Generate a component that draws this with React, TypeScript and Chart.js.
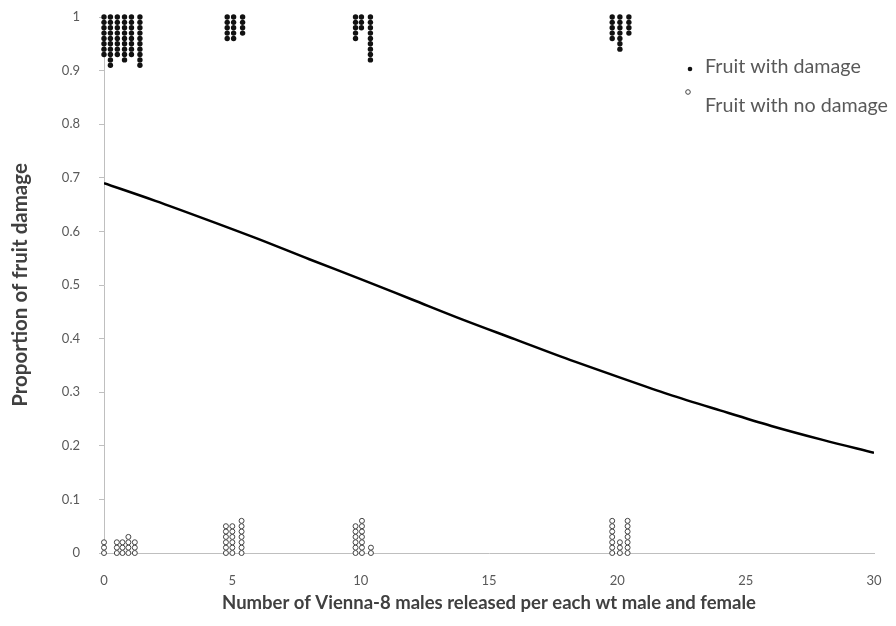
import React, { useEffect, useRef } from "react";
import { Chart, registerables } from "chart.js";

Chart.register(...registerables);

// Fitted curve (proportion of fruit damage vs. release ratio)
const curveX = [0, 2, 4, 6, 8, 10, 12, 14, 16, 18, 20, 22, 24, 26, 28, 30];
const curveY = [0.69, 0.657, 0.622, 0.586, 0.548, 0.511, 0.473, 0.435, 0.399, 0.363, 0.329, 0.296, 0.266, 0.237, 0.211, 0.187];

// Fruit with damage (filled dots), stacked columns
const damagedColX = [0.0, 0.25, 0.52, 0.8, 1.07, 1.4, 4.8, 5.05, 5.4, 9.8, 10.03, 10.38, 19.8, 20.1, 20.45];
const damagedColY = [
  [1, 0.99, 0.98, 0.97, 0.96, 0.95, 0.94, 0.93],
  [1, 0.99, 0.98, 0.97, 0.96, 0.95, 0.94, 0.93, 0.92, 0.91],
  [1, 0.99, 0.98, 0.97, 0.96, 0.95, 0.94, 0.93],
  [1, 0.99, 0.98, 0.97, 0.96, 0.95, 0.94, 0.93, 0.92],
  [1, 0.99, 0.98, 0.97, 0.96, 0.95, 0.94, 0.93],
  [1, 0.99, 0.98, 0.97, 0.96, 0.95, 0.94, 0.93, 0.92, 0.91],
  [1, 0.99, 0.98, 0.97, 0.96],
  [1, 0.99, 0.98, 0.97, 0.96],
  [1, 0.99, 0.98, 0.97],
  [1, 0.99, 0.98, 0.97, 0.96],
  [1, 0.99, 0.98],
  [1, 0.99, 0.98, 0.97, 0.96, 0.95, 0.94, 0.93, 0.92],
  [1, 0.99, 0.98, 0.97, 0.96],
  [1, 0.99, 0.98, 0.97, 0.96, 0.95, 0.94],
  [1, 0.99, 0.98, 0.97],
];

// Fruit with no damage (open dots), stacked columns
const cleanColX = [0.0, 0.5, 0.72, 0.95, 1.2, 4.75, 5.0, 5.36, 9.8, 10.05, 10.4, 19.8, 20.1, 20.4];
const cleanColY = [
  [0, 0.01, 0.02],
  [0, 0.01, 0.02],
  [0, 0.01, 0.02],
  [0, 0.01, 0.02, 0.03],
  [0, 0.01, 0.02],
  [0, 0.01, 0.02, 0.03, 0.04, 0.05],
  [0, 0.01, 0.02, 0.03, 0.04, 0.05],
  [0, 0.01, 0.02, 0.03, 0.04, 0.05, 0.06],
  [0, 0.01, 0.02, 0.03, 0.04, 0.05],
  [0, 0.01, 0.02, 0.03, 0.04, 0.05, 0.06],
  [0, 0.01],
  [0, 0.01, 0.02, 0.03, 0.04, 0.05, 0.06],
  [0, 0.01, 0.02],
  [0, 0.01, 0.02, 0.03, 0.04, 0.05, 0.06],
];

const xTicks = [0, 5, 10, 15, 20, 25, 30];
const yTicks = [0, 0.1, 0.2, 0.3, 0.4, 0.5, 0.6, 0.7, 0.8, 0.9, 1];

const legendLabels = ["Fruit with damage", "Fruit with no damage"];
const xTitle = "Number of Vienna-8 males released per each wt male and female";
const yTitle = "Proportion of fruit damage";

const FONT = "Lato, 'Open Sans', 'Liberation Sans', sans-serif";
const TEXT = "#595959";

export default function App() {
  const ref = useRef<HTMLCanvasElement | null>(null);

  useEffect(() => {
    if (!ref.current) return;
    const damagedPts: { x: number; y: number }[] = [];
    damagedColX.forEach((x, i) => damagedColY[i].forEach((y) => damagedPts.push({ x, y })));
    const cleanPts: { x: number; y: number }[] = [];
    cleanColX.forEach((x, i) => cleanColY[i].forEach((y) => cleanPts.push({ x, y })));
    const curvePts = curveX.map((x, i) => ({ x, y: curveY[i] }));

    const legendPlugin = {
      id: "customLegend",
      afterDraw(chart: any) {
        const ctx = chart.ctx;
        ctx.save();
        ctx.fillStyle = "#111";
        ctx.beginPath();
        ctx.arc(690, 69, 2.3, 0, Math.PI * 2);
        ctx.fill();
        ctx.strokeStyle = "#444";
        ctx.lineWidth = 1;
        ctx.fillStyle = "#fff";
        ctx.beginPath();
        ctx.arc(688, 92, 2.3, 0, Math.PI * 2);
        ctx.fill();
        ctx.stroke();
        ctx.fillStyle = TEXT;
        ctx.font = `19.7px ${FONT}`;
        ctx.textBaseline = "middle";
        ctx.textAlign = "left";
        ctx.fillText(legendLabels[0], 705, 67);
        ctx.fillText(legendLabels[1], 705, 106);
        ctx.restore();
      },
    };

    const chart = new Chart(ref.current, {
      type: "scatter",
      data: {
        datasets: [
          {
            type: "line",
            label: "fit",
            data: curvePts,
            borderColor: "#000",
            borderWidth: 2.5,
            pointRadius: 0,
            cubicInterpolationMode: "monotone",
            fill: false,
          } as any,
          {
            label: legendLabels[0],
            data: damagedPts,
            backgroundColor: "#111",
            borderColor: "#111",
            borderWidth: 0,
            pointRadius: 2.7,
            clip: false,
          } as any,
          {
            label: legendLabels[1],
            data: cleanPts,
            backgroundColor: "#fff",
            borderColor: "#444",
            borderWidth: 1,
            pointRadius: 2.5,
            clip: false,
          } as any,
        ],
      },
      options: {
        responsive: false,
        animation: false,
        layout: { padding: { top: 17, right: 22, left: 0, bottom: 0 } },
        plugins: { legend: { display: false }, tooltip: { enabled: false } },
        scales: {
          x: {
            type: "linear",
            min: 0,
            max: 30,
            afterBuildTicks: (axis: any) => {
              axis.ticks = xTicks.map((v) => ({ value: v }));
            },
            afterFit: (axis: any) => {
              axis.height = 73;
              axis.paddingLeft = 0;
              axis.paddingRight = 0;
            },
            grid: { display: false, drawTicks: false },
            border: { display: true, color: "#bfbfbf", width: 1 },
            ticks: { color: TEXT, font: { family: FONT, size: 13 }, padding: 20, maxRotation: 0 },
            title: {
              display: true,
              text: xTitle,
              color: "#404040",
              font: { family: FONT, size: 18.5, weight: "bold" },
              padding: { top: 0, bottom: 12 },
            },
          },
          y: {
            type: "linear",
            min: 0,
            max: 1,
            afterBuildTicks: (axis: any) => {
              axis.ticks = yTicks.map((v) => ({ value: v }));
            },
            afterFit: (axis: any) => {
              axis.width = 104;
              axis.paddingTop = 0;
              axis.paddingBottom = 0;
            },
            grid: { display: true, drawOnChartArea: false, drawTicks: true, tickLength: 5, color: "#bfbfbf" },
            border: { display: true, color: "#bfbfbf", width: 1 },
            ticks: {
              color: TEXT,
              font: { family: FONT, size: 13 },
              padding: 19,
              callback: (v: any) => String(Number(Number(v).toFixed(1))),
            },
            title: {
              display: true,
              text: yTitle,
              color: "#404040",
              font: { family: FONT, size: 20.5, weight: "bold" },
              padding: { top: 8, bottom: 0 },
            },
          },
        },
      },
      plugins: [legendPlugin],
    });
    return () => chart.destroy();
  }, []);

  return (
    <div style={{ position: "absolute", left: 0, top: 0, width: 896, height: 626, background: "#fff" }}>
      <canvas ref={ref} width={896} height={626} style={{ width: 896, height: 626, display: "block" }} />
    </div>
  );
}
